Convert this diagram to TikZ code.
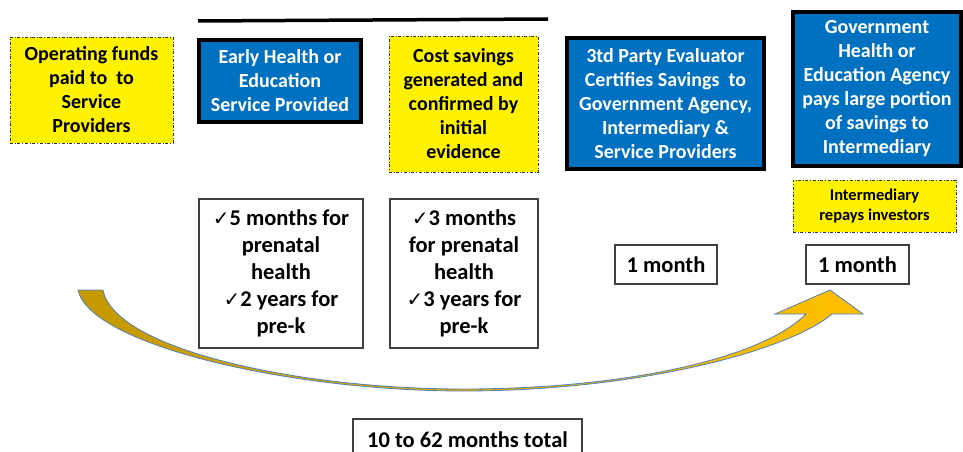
\documentclass[tikz,border=0pt]{standalone}
\usepackage{fontspec}
\setmainfont{Carlito}
\newfontfamily\symfont{DejaVu Sans}

\definecolor{boxblue}{RGB}{0,112,192}
\definecolor{arrowdark}{RGB}{196,152,0}
\definecolor{arrowlight}{RGB}{255,192,0}
\definecolor{edgeblue}{RGB}{79,129,189}
\newcommand{\tick}{{\symfont\mdseries\fontsize{20}{27}\selectfont ✓}}

\tikzset{
    yellowbox/.style={draw=black!80, fill=yellow, dash dot, line width=0.9pt,
        align=center, inner sep=0pt, font=\fontsize{20}{24}\selectfont\bfseries},
    bluebox/.style={draw=black, fill=boxblue, line width=4pt, text=white,
        align=center, inner sep=0pt, font=\fontsize{20}{24}\selectfont\bfseries},
    timebox/.style={draw=black!75, line width=1.3pt, fill=white,
        align=center, inner sep=0pt, font=\fontsize{22.5}{27}\selectfont\bfseries},
}

\begin{document}
\begin{tikzpicture}[x=1pt, y=-1pt]
    \useasboundingbox (0,0) rectangle (963,452);

    % curved arrow under the timeline
    \shadedraw[left color=arrowdark, right color=arrowlight, draw=edgeblue, line width=0.8pt]
        (78,290) .. controls (90,345) and (290,391) .. (463,391)
        .. controls (640,391) and (790,350) .. (832,314)
        -- (863,314) -- (830,290) -- (775,314) -- (806,314)
        .. controls (760,360) and (620,389) .. (463,389)
        .. controls (300,389) and (115,350) .. (103,290) -- cycle;

    % top bar
    \coordinate (barL) at (198,21);
    \coordinate (barR) at (548,19);
    \draw[line width=3.5pt] (barL) -- (barR);

    % steps
    \node[yellowbox, minimum width=163, minimum height=106] (funds) at (91.5,90)
        {Operating funds\\paid to~ to\\Service\\Providers};
    \node[bluebox, minimum width=162, minimum height=82] (service) at (280,81)
        {Early Health or\\Education\\Service Provided};
    \node[yellowbox, minimum width=149, minimum height=136] (savings) at (463.5,104)
        {Cost savings\\generated and\\confirmed by\\initial\\evidence};
    \node[bluebox, minimum width=197, minimum height=131] (evaluator) at (665.5,103.5)
        {3td Party Evaluator\\Certifies Savings~ to\\Government Agency,\\Intermediary \&\\Service Providers};
    \node[bluebox, minimum width=168, minimum height=154] (agency) at (877,89)
        {Government\\Health or\\Education Agency\\pays large portion\\of savings to\\Intermediary};
    \node[yellowbox, minimum width=163, minimum height=52,
          font=\fontsize{16.5}{20}\selectfont\bfseries] (repays) at (874.5,206)
        {Intermediary\\repays investors};

    % durations
    \node[timebox, minimum width=164, minimum height=149] (time1) at (281,273.5)
        {\tick5 months for\\prenatal\\health\\\tick2 years for\\pre-k};
    \node[timebox, minimum width=148, minimum height=149] (time2) at (464,273.5)
        {\tick3 months\\for prenatal\\health\\\tick3 years for\\pre-k};
    \foreach[count=\i] \x/\w in {666/102, 857.5/103}
        \node[timebox, minimum width=\w, minimum height=39] (month\i) at (\x,264.5) {1 month};

    \node[timebox, minimum width=229, minimum height=42] (total) at (467.5,440)
        {10 to 62 months total};
\end{tikzpicture}
\end{document}
